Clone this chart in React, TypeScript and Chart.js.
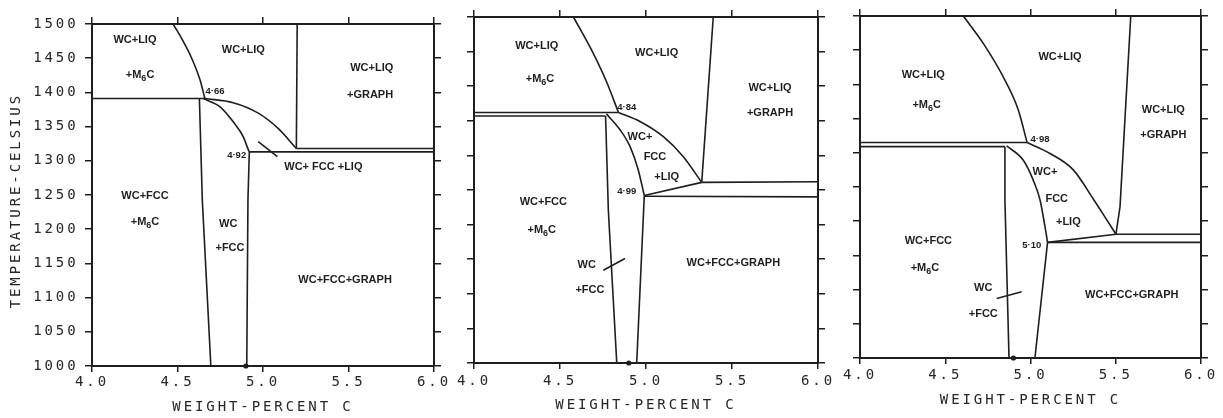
import React, { useEffect, useRef } from 'react';
import { Chart, registerables } from 'chart.js';

Chart.register(...registerables);

type Pt = [number, number];
type Label = [string, number, number];

// Axes: carbon content (wt.%) and temperature (°C)
const wtMin = 4.0;
const wtMax = 6.0;
const wtStep = 0.5;
const tMin = 1000;
const tMax = 1500;
const tStep = 50;
const xTitle = 'WEIGHT-PERCENT C';
const yTitle = 'TEMPERATURE-CELSIUS';

// Nominal alloy composition marked on the 1000 °C axis
const alloyMark: Pt[] = [[4.9, 1000]];

// ---- Section (a) ----
const aM6cLiquidus: Pt[] = [[4.474, 1500], [4.524, 1479], [4.583, 1450], [4.632, 1418], [4.66, 1391]];
const aEutectic: Pt[] = [[4.0, 1391], [4.66, 1391]];
const aFccLeft: Pt[] = [[4.628, 1391], [4.645, 1243], [4.695, 1000]];
const aFccCurve: Pt[] = [[4.651, 1391], [4.749, 1379], [4.826, 1357], [4.885, 1335], [4.908, 1320], [4.92, 1313]];
const aFccRight: Pt[] = [[4.92, 1313], [4.912, 1243], [4.905, 1000]];
const aLiquidus: Pt[] = [[4.66, 1391], [4.826, 1385], [4.97, 1370], [5.09, 1347], [5.195, 1318]];
const aGraphite: Pt[] = [[5.2, 1500], [5.195, 1318]];
const aGraphUpper: Pt[] = [[5.195, 1318], [6.0, 1318]];
const aGraphLower: Pt[] = [[4.92, 1313], [6.0, 1313]];
const aLeader: Pt[] = [[4.972, 1328], [5.084, 1306]];
const aLabels: Label[] = [
  ['WC+LIQ', 4.251, 1476],
  ['+M_6C', 4.281, 1425],
  ['WC+LIQ', 4.885, 1462],
  ['4·66', 4.719, 1402],
  ['WC+LIQ', 5.636, 1435],
  ['+GRAPH', 5.626, 1396],
  ['4·92', 4.846, 1308],
  ['WC+ FCC +LIQ', 5.353, 1291],
  ['WC+FCC', 4.31, 1248],
  ['+M_6C', 4.31, 1210],
  ['WC', 4.797, 1208],
  ['+FCC', 4.807, 1172],
  ['WC+FCC+GRAPH', 5.48, 1126],
];

// ---- Section (b) ----
const bM6cLiquidus: Pt[] = [[4.578, 1500], [4.684, 1452], [4.771, 1406], [4.84, 1362]];
const bEutUpper: Pt[] = [[4.0, 1362], [4.84, 1362]];
const bEutLower: Pt[] = [[4.0, 1357], [4.765, 1357]];
const bFccLeft: Pt[] = [[4.765, 1357], [4.781, 1221], [4.83, 1000]];
const bFccCurve: Pt[] = [[4.77, 1360], [4.849, 1337], [4.907, 1313], [4.955, 1279], [4.99, 1242]];
const bFccRight: Pt[] = [[4.99, 1242], [4.946, 1000]];
const bLiquidus: Pt[] = [[4.84, 1362], [4.965, 1349], [5.101, 1327], [5.217, 1298], [5.324, 1261]];
const bGraphite: Pt[] = [[5.391, 1500], [5.324, 1261]];
const bGraphUpper: Pt[] = [[5.324, 1261], [6.0, 1262]];
const bTie: Pt[] = [[4.99, 1242], [5.324, 1261]];
const bGraphLower: Pt[] = [[4.99, 1241], [6.0, 1240]];
const bLeader: Pt[] = [[4.752, 1134], [4.878, 1151]];
const bLabels: Label[] = [
  ['WC+LIQ', 4.365, 1458],
  ['+M_6C', 4.384, 1411],
  ['WC+LIQ', 5.062, 1448],
  ['WC+LIQ', 5.721, 1398],
  ['+GRAPH', 5.721, 1361],
  ['4·84', 4.888, 1370],
  ['WC+', 4.965, 1327],
  ['FCC', 5.052, 1298],
  ['+LIQ', 5.12, 1269],
  ['4·99', 4.888, 1248],
  ['WC+FCC', 4.403, 1233],
  ['+M_6C', 4.394, 1192],
  ['WC', 4.655, 1142],
  ['+FCC', 4.674, 1106],
  ['WC+FCC+GRAPH', 5.508, 1145],
];

// ---- Section (c) ----
const cM6cLiquidus: Pt[] = [[4.606, 1500], [4.723, 1460], [4.84, 1411], [4.928, 1363], [4.98, 1315]];
const cEutUpper: Pt[] = [[4.0, 1315], [4.98, 1315]];
const cEutLower: Pt[] = [[4.0, 1309], [4.85, 1309]];
const cFccLeft: Pt[] = [[4.85, 1309], [4.85, 1231], [4.874, 1000]];
const cFccCurve: Pt[] = [[4.86, 1310], [4.958, 1289], [5.016, 1260], [5.056, 1231], [5.085, 1192], [5.1, 1169]];
const cFccRight: Pt[] = [[5.1, 1169], [5.026, 1000]];
const cLiquidus: Pt[] = [[4.98, 1315], [5.114, 1299], [5.251, 1275], [5.372, 1231], [5.437, 1206], [5.501, 1181]];
const cGraphite: Pt[] = [[5.588, 1500], [5.525, 1221], [5.501, 1181]];
const cGraphUpper: Pt[] = [[5.501, 1181], [6.0, 1181]];
const cTie: Pt[] = [[5.1, 1169], [5.501, 1181]];
const cGraphLower: Pt[] = [[5.1, 1169], [6.0, 1169]];
const cLeader: Pt[] = [[4.802, 1087], [4.948, 1097]];
const cLabels: Label[] = [
  ['WC+LIQ', 5.173, 1440],
  ['WC+LIQ', 4.371, 1414],
  ['+M_6C', 4.391, 1370],
  ['WC+LIQ', 5.779, 1363],
  ['+GRAPH', 5.779, 1326],
  ['4·98', 5.056, 1319],
  ['WC+', 5.085, 1272],
  ['FCC', 5.154, 1233],
  ['+LIQ', 5.222, 1199],
  ['5·10', 5.007, 1165],
  ['WC+FCC', 4.401, 1171],
  ['+M_6C', 4.381, 1131],
  ['WC', 4.723, 1102],
  ['+FCC', 4.723, 1065],
  ['WC+FCC+GRAPH', 5.594, 1092],
];

const INK = '#1e1e1e';
const TEXT = '#262626';
const MONO = '"DejaVu Sans Mono", "Liberation Mono", monospace';
const SANS = '"Liberation Sans", Arial, sans-serif';
const AXIS_SPACING = '2.9px';

interface Curve {
  pts: Pt[];
  smooth?: boolean;
}

interface PanelCfg {
  curves: Curve[];
  labels: Label[];
  left: number;
  width: number;
  pad: { left: number; right: number; top: number; bottom: number };
  xAxisH: number;
  yAxisW: number;
  showY: boolean;
  xTickPad: number;
}

const panels: PanelCfg[] = [
  {
    curves: [
      { pts: aM6cLiquidus, smooth: true },
      { pts: aEutectic },
      { pts: aFccLeft },
      { pts: aFccCurve, smooth: true },
      { pts: aFccRight },
      { pts: aLiquidus, smooth: true },
      { pts: aGraphite },
      { pts: aGraphUpper },
      { pts: aGraphLower },
      { pts: aLeader },
    ],
    labels: aLabels,
    left: 0,
    width: 462,
    pad: { left: 7.6, right: 28, top: 24, bottom: 2.6 },
    xAxisH: 49.4,
    yAxisW: 84.4,
    showY: true,
    xTickPad: 2.1,
  },
  {
    curves: [
      { pts: bM6cLiquidus, smooth: true },
      { pts: bEutUpper },
      { pts: bEutLower },
      { pts: bFccLeft },
      { pts: bFccCurve, smooth: true },
      { pts: bFccRight },
      { pts: bLiquidus, smooth: true },
      { pts: bGraphite },
      { pts: bGraphUpper },
      { pts: bTie },
      { pts: bGraphLower },
      { pts: bLeader },
    ],
    labels: bLabels,
    left: 440,
    width: 405,
    pad: { left: 34, right: 27, top: 17, bottom: 4.6 },
    xAxisH: 50.4,
    yAxisW: 0,
    showY: false,
    xTickPad: 4.3,
  },
  {
    curves: [
      { pts: cM6cLiquidus, smooth: true },
      { pts: cEutUpper },
      { pts: cEutLower },
      { pts: cFccLeft },
      { pts: cFccCurve, smooth: true },
      { pts: cFccRight },
      { pts: cLiquidus, smooth: true },
      { pts: cGraphite },
      { pts: cGraphUpper },
      { pts: cTie },
      { pts: cGraphLower },
      { pts: cLeader },
    ],
    labels: cLabels,
    left: 830,
    width: 393,
    pad: { left: 30, right: 22, top: 16, bottom: 9.6 },
    xAxisH: 50.4,
    yAxisW: 0,
    showY: false,
    xTickPad: 2.6,
  },
];

// Wide plotter-style lettering for the axis text
const axisLetterSpacing = {
  id: 'axisLetterSpacing',
  beforeLayout(chart: any) {
    chart.ctx.letterSpacing = AXIS_SPACING;
  },
  beforeDraw(chart: any) {
    chart.ctx.letterSpacing = AXIS_SPACING;
  },
};

// Draws a phase label; "_x" sets x as a subscript (e.g. M_6C)
function drawRich(ctx: CanvasRenderingContext2D, text: string, cx: number, cy: number, size: number) {
  const parts: { s: string; sub: boolean }[] = [];
  for (let i = 0; i < text.length; i++) {
    if (text[i] === '_' && i + 1 < text.length) {
      parts.push({ s: text[i + 1], sub: true });
      i++;
    } else {
      const last = parts[parts.length - 1];
      if (last && !last.sub) last.s += text[i];
      else parts.push({ s: text[i], sub: false });
    }
  }
  const mainFont = `bold ${size}px ${SANS}`;
  const subFont = `bold ${Math.round(size * 0.78)}px ${SANS}`;
  const widths = parts.map((p) => {
    ctx.font = p.sub ? subFont : mainFont;
    return ctx.measureText(p.s).width;
  });
  const total = widths.reduce((a, b) => a + b, 0);
  let x = cx - total / 2;
  parts.forEach((p, i) => {
    ctx.font = p.sub ? subFont : mainFont;
    ctx.fillText(p.s, x, p.sub ? cy + size * 0.32 : cy);
    x += widths[i];
  });
}

function makeLabelPlugin(labels: Label[]) {
  return {
    id: 'phaseLabels',
    afterDatasetsDraw(chart: any) {
      const { ctx } = chart;
      const sx = chart.scales.x;
      const sy = chart.scales.y;
      ctx.save();
      ctx.letterSpacing = '0px';
      ctx.fillStyle = INK;
      ctx.textBaseline = 'middle';
      ctx.textAlign = 'left';
      for (const [text, xv, yv] of labels) {
        const size = text.includes('·') ? 9.5 : 11;
        drawRich(ctx, text, sx.getPixelForValue(xv), sy.getPixelForValue(yv), size);
      }
      ctx.restore();
    },
  };
}

const tickGrid = (len: number) => ({
  drawOnChartArea: false,
  drawTicks: true,
  tickLength: len,
  color: INK,
  lineWidth: 1.5,
});
const frameBorder = { display: true, color: INK, width: 2 };
const axisFont = { family: MONO, size: 14 };

function Panel({ cfg }: { cfg: PanelCfg }) {
  const ref = useRef<HTMLCanvasElement | null>(null);

  useEffect(() => {
    if (!ref.current) return;
    const datasets: any[] = cfg.curves.map((c) => ({
      data: c.pts.map(([x, y]) => ({ x, y })),
      borderColor: INK,
      borderWidth: 1.6,
      pointRadius: 0,
      cubicInterpolationMode: c.smooth ? 'monotone' : 'default',
      tension: 0,
      fill: false,
      clip: false,
      xAxisID: 'x',
      yAxisID: 'y',
    }));
    datasets.push({
      data: alloyMark.map(([x, y]) => ({ x, y })),
      showLine: false,
      pointRadius: 2.6,
      pointBackgroundColor: INK,
      pointBorderWidth: 0,
      clip: false,
      xAxisID: 'x',
      yAxisID: 'y',
    });

    const chart = new Chart(ref.current, {
      type: 'line',
      data: { datasets },
      options: {
        responsive: false,
        animation: false,
        events: [],
        layout: { padding: cfg.pad },
        plugins: { legend: { display: false }, tooltip: { enabled: false } },
        scales: {
          x: {
            type: 'linear',
            position: 'bottom',
            min: wtMin,
            max: wtMax,
            ticks: {
              stepSize: wtStep,
              font: axisFont,
              color: TEXT,
              padding: cfg.xTickPad,
              maxRotation: 0,
              autoSkip: false,
              callback: (v: any) => Number(v).toFixed(1),
            },
            grid: tickGrid(6),
            border: frameBorder,
            title: { display: true, text: xTitle, font: axisFont, color: TEXT, padding: 0 },
            afterFit: (s: any) => {
              s.height = cfg.xAxisH;
            },
          },
          xTop: {
            type: 'linear',
            position: 'top',
            min: wtMin,
            max: wtMax,
            ticks: { stepSize: wtStep, display: false },
            grid: tickGrid(7),
            border: frameBorder,
            afterFit: (s: any) => {
              s.height = 0;
            },
          },
          y: {
            type: 'linear',
            position: 'left',
            min: tMin,
            max: tMax,
            ticks: {
              stepSize: tStep,
              display: cfg.showY,
              font: axisFont,
              color: TEXT,
              padding: 6.5,
              autoSkip: false,
              callback: (v: any) => String(Math.round(Number(v))),
            },
            grid: tickGrid(7),
            border: frameBorder,
            title: { display: cfg.showY, text: yTitle + ' ', font: axisFont, color: TEXT, padding: 0 },
            afterFit: (s: any) => {
              s.width = cfg.yAxisW;
            },
          },
          yRight: {
            type: 'linear',
            position: 'right',
            min: tMin,
            max: tMax,
            ticks: { stepSize: tStep, display: false },
            grid: tickGrid(7),
            border: frameBorder,
            afterFit: (s: any) => {
              s.width = 0;
            },
          },
        },
      } as any,
      plugins: [axisLetterSpacing, makeLabelPlugin(cfg.labels)],
    });
    return () => chart.destroy();
  }, [cfg]);

  return (
    <canvas
      ref={ref}
      width={cfg.width}
      height={418}
      style={{ position: 'absolute', left: cfg.left, top: 0, width: cfg.width, height: 418 }}
    />
  );
}

export default function App() {
  return (
    <div style={{ position: 'absolute', left: 0, top: 0, width: 1223, height: 418, background: '#fff' }}>
      {panels.map((p, i) => (
        <Panel key={i} cfg={p} />
      ))}
    </div>
  );
}
